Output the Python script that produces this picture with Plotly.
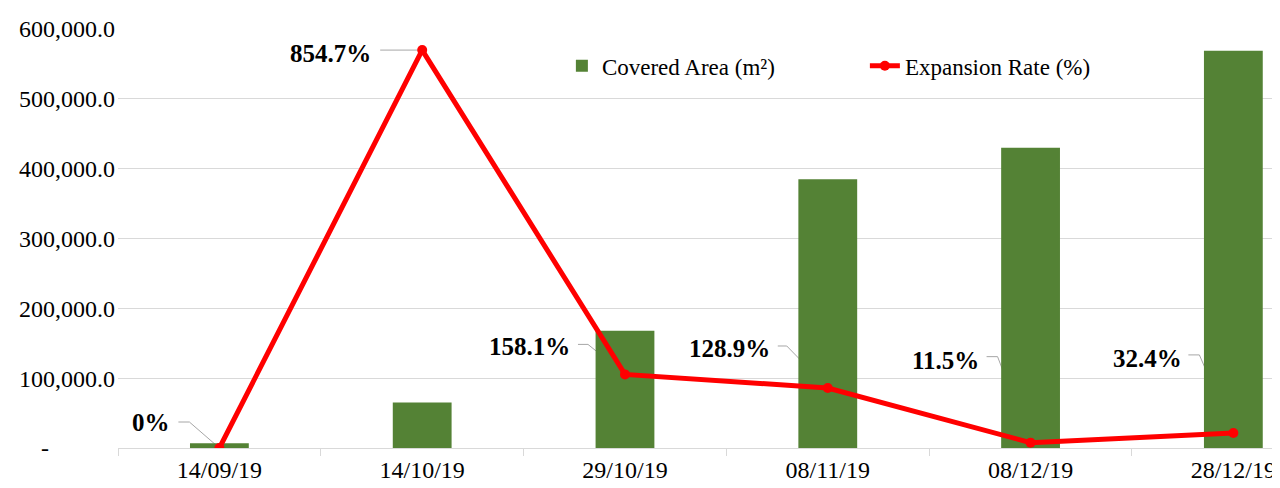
import plotly.graph_objects as go

# ---- data ----
dates = ["14/09/19", "14/10/19", "29/10/19", "08/11/19", "08/12/19", "28/12/19"]
covered_area = [6800, 65000, 168000, 385000, 430000, 569000]
expansion_rate = [0.0, 854.7, 158.1, 128.9, 11.5, 32.4]
rate_labels = ["0%", "854.7%", "158.1%", "128.9%", "11.5%", "32.4%"]
y_tickvals = [0, 100000, 200000, 300000, 400000, 500000, 600000]
y_ticktext = ["-" + "\u00a0" * 11, "100,000.0", "200,000.0", "300,000.0",
              "400,000.0", "500,000.0", "600,000.0"]

# ---- styles (pixel offsets of the data labels and leader lines) ----
label_dx = [-47, -49, -53, -56, -50, -49]
label_dy = [26, -3, 28, 39, 82, 74]
leader_paths = [
    "M-41,26 L-30,26 L0,0",
    "M-42,0 L0,0",
    "M-47,30 L-37,30 L0,0",
    "M-50,42 L-41,42 L0,0",
    "M-44,86 L-33,86 L0,0",
    "M-45,78 L-34,78 L0,0",
]

FONT = "Liberation Serif, Times New Roman, serif"
GREEN = "#548235"
RED = "#ff0000"
GRID = "#d9d9d9"

fig = go.Figure()
fig.add_trace(go.Bar(
    x=dates, y=covered_area, name="Covered Area (m²)",
    marker=dict(color=GREEN, line=dict(width=0)), width=0.29,
    yaxis="y",
))
fig.add_trace(go.Scatter(
    x=dates, y=expansion_rate, name="Expansion Rate (%)",
    mode="lines+markers", line=dict(color=RED, width=5),
    marker=dict(color=RED, size=10), yaxis="y2",
))

shapes = []
annotations = []
for i, d in enumerate(dates):
    shapes.append(dict(
        type="path", xref="x", yref="y2", xsizemode="pixel", ysizemode="pixel",
        xanchor=d, yanchor=expansion_rate[i], path=leader_paths[i],
        line=dict(color="#a6a6a6", width=1), layer="below",
    ))
    annotations.append(dict(
        x=d, y=expansion_rate[i], xref="x", yref="y2", text=rate_labels[i],
        showarrow=False, xanchor="right", yanchor="middle",
        xshift=label_dx[i], yshift=label_dy[i],
        font=dict(family=FONT, size=25, color="#000000", weight="bold"),
    ))

fig.update_layout(
    width=1280, height=488,
    margin=dict(l=110, r=8, t=18, b=48),
    paper_bgcolor="white", plot_bgcolor="white",
    font=dict(family=FONT, size=22, color="#000000"),
    bargap=0.71,
    shapes=shapes, annotations=annotations,
    showlegend=True,
    legend=dict(
        orientation="h", x=0.382, y=0.912, xanchor="left", yanchor="middle",
        font=dict(family=FONT, size=23, color="#000000"),
        bgcolor="rgba(0,0,0,0)", entrywidth=258, entrywidthmode="pixels",
    ),
    xaxis=dict(
        type="category", range=[-0.5, 5.23],
        showgrid=False, showline=True, linecolor=GRID, linewidth=1,
        ticks="outside", tickson="boundaries", ticklen=7, tickcolor=GRID,
        tickfont=dict(family=FONT, size=24, color="#000000"),
        zeroline=False, fixedrange=True,
    ),
    yaxis=dict(
        range=[0, 600000], tickvals=y_tickvals, ticktext=y_ticktext,
        showgrid=True, gridcolor=GRID, gridwidth=1, zeroline=False,
        showline=False, ticks="", ticklabelstandoff=2,
        tickfont=dict(family=FONT, size=24, color="#000000"),
    ),
    yaxis2=dict(
        range=[0, 900], overlaying="y", side="right", visible=False,
        showgrid=False, zeroline=False,
    ),
)

fig.write_html("out.html")
